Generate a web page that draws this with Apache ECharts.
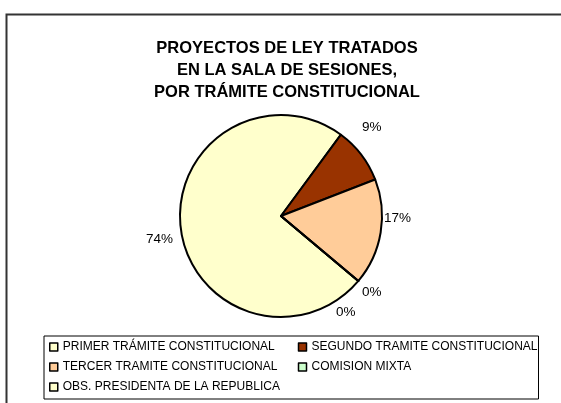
<!DOCTYPE html>
<html>
<head>
<meta charset="utf-8">
<script src="https://cdn.jsdelivr.net/npm/echarts@6/dist/echarts.min.js"></script>
<style>
  html, body { margin: 0; padding: 0; background: #fff; }
  #chart { width: 561px; height: 403px; }
</style>
</head>
<body>
<div id="chart"></div>
<script>
var names = [
  "PRIMER TRÁMITE CONSTITUCIONAL",
  "SEGUNDO TRAMITE CONSTITUCIONAL",
  "TERCER TRAMITE CONSTITUCIONAL",
  "COMISION MIXTA",
  "OBS. PRESIDENTA DE LA REPUBLICA"
];
var values = [74, 9, 17, 0, 0];
var colors = ["#FFFFCC", "#993300", "#FFCC99", "#CCFFCC", "#FFFFCC"];

// label placement (line lengths, line itself is hidden)
var labelLen = [93, 45.5, -84.5, 18, 49.4];
var labelLen2 = [-89.6, -40.4, 81.7, -15.2, -65.2];

var chart = echarts.init(document.getElementById("chart"));

var pieData = [];
for (let i = 0; i < names.length; i++) {
  pieData.push({
    name: names[i],
    value: values[i],
    itemStyle: { color: colors[i] },
    labelLine: { show: false, length: labelLen[i], length2: labelLen2[i] }
  });
}

var option = {
  animation: false,
  textStyle: { fontFamily: "Liberation Sans, Arial, sans-serif" },
  title: {
    text: "PROYECTOS DE LEY TRATADOS\nEN LA SALA DE SESIONES,\nPOR TRÁMITE CONSTITUCIONAL",
    left: 287,
    top: 37,
    padding: 0,
    textAlign: "center",
    textStyle: {
      fontFamily: "Liberation Sans, Arial, sans-serif",
      fontSize: 16.5,
      fontWeight: "bold",
      lineHeight: 22,
      color: "#000"
    }
  },
  graphic: [
    {
      type: "rect",
      shape: { x: 6.5, y: 14.5, width: 600, height: 420 },
      style: { fill: "none", stroke: "#333", lineWidth: 2 },
      silent: true
    }
  ],
  legend: {
    left: 44,
    top: 336,
    width: 495,
    padding: [1, 1, 2, 5],
    itemGap: 0,
    itemWidth: 8,
    itemHeight: 8,
    icon: "rect",
    borderColor: "#000",
    borderWidth: 1,
    itemStyle: { borderColor: "#000", borderWidth: 1.5 },
    data: names,
    formatter: function (name) {
      var idx = names.indexOf(name);
      if (idx % 2 == 0) {
        return "{c1|" + name + "}";
      }
      return name;
    },
    textStyle: {
      fontFamily: "Liberation Sans, Arial, sans-serif",
      fontSize: 12,
      lineHeight: 20,
      color: "#000",
      padding: 0,
      rich: {
        c1: {
          width: 235,
          fontFamily: "Liberation Sans, Arial, sans-serif",
          fontSize: 12,
          lineHeight: 20,
          color: "#000"
        }
      }
    }
  },
  series: [
    {
      type: "pie",
      center: [281, 216],
      radius: 101,
      startAngle: 320,
      clockwise: true,
      minAngle: 0,
      avoidLabelOverlap: false,
      itemStyle: { borderColor: "#000", borderWidth: 2 },
      emphasis: { disabled: true },
      label: {
        show: true,
        position: "outside",
        distanceToLabelLine: 5,
        fontFamily: "Liberation Sans, Arial, sans-serif",
        fontSize: 13.5,
        color: "#000",
        formatter: function (p) {
          return Math.round(p.percent) + "%";
        }
      },
      labelLine: { show: false },
      data: pieData
    }
  ]
};

chart.setOption(option);
</script>
</body>
</html>
